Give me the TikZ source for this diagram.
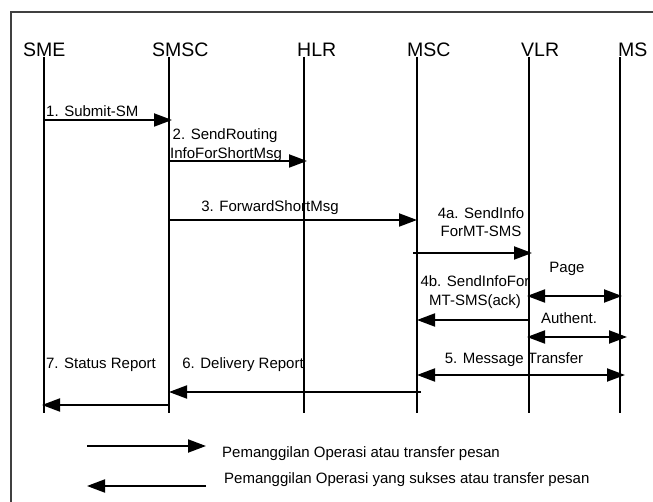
\documentclass[tikz,border=0pt]{standalone}
\usepackage{fontspec}
\setmainfont{Liberation Sans}
\usetikzlibrary{arrows.meta}

\newcommand{\headfont}{\fontsize{19.5}{21}\selectfont}
\newcommand{\msgfont}{\fontsize{15}{18.5}\selectfont}

\tikzset{
  head/.style={anchor=base west, inner sep=0pt, font=\headfont},
  lifeline/.style={line width=1.7pt},
  msg/.style={->, line width=2pt, shorten >=-3pt},
  duplex/.style={<->, line width=2pt, shorten >=-2pt, shorten <=-2pt},
  lbl/.style={inner sep=0pt, font=\msgfont, align=center}
}

\begin{document}
\begin{tikzpicture}[x=1pt,y=-1pt,>={Triangle[length=18pt,width=13pt]}]
        \useasboundingbox (0,0) rectangle (653,502);
        \draw[line width=1.5pt, black!75] (11,502) -- (11,12) -- (653,12);

        % lifelines
        \node (sme) [head] at (23,57) {SME};
        \node (smsc) [head] at (152,57) {SMSC};
        \node (hlr) [head] at (297,57) {HLR};
        \node (msc) [head] at (407,57) {MSC};
        \node (vlr) [head] at (521,57) {VLR};
        \node (ms) [head] at (618,57) {MS};
        \coordinate (smeT) at (44,57);
        \coordinate (smscT) at (169,57);
        \coordinate (hlrT) at (304,57);
        \coordinate (mscT) at (417,57);
        \coordinate (vlrT) at (529,57);
        \coordinate (msT) at (620,57);
        \foreach \l in {smeT,smscT,hlrT,mscT,vlrT,msT}
            \draw[lifeline] (\l) -- (\l |- 0,413);

        % messages
        \draw[msg] (smeT |- 0,120) -- (smscT |- 0,120);
        \node (m1) [lbl, anchor=base west] at (46,117) {1. Submit-SM};
        \draw[msg] (smscT |- 0,161) ++(1,0) -- (hlrT |- 0,161);
        \node (m2) [lbl, anchor=west, align=left] at (170,145) {\,2. SendRouting\\InfoForShortMsg};
        \draw[msg, shorten >=0pt] (smscT |- 0,220) ++(1,0) -- (mscT |- 0,220);
        \node (m3) [lbl] at (270,208) {3. ForwardShortMsg};
        \draw[msg] (mscT |- 0,253) ++(-4,0) -- (vlrT |- 0,253);
        \node (m4a) [lbl] at (481,222) {4a. SendInfo\\ForMT-SMS};
        \draw[duplex] (vlrT |- 0,296) -- (msT |- 0,296);
        \node (pg) [lbl] at (567,269) {Page};
        \draw[msg, shorten >=0pt] (vlrT |- 0,320) -- (mscT |- 0,320);
        \node (m4b) [lbl] at (475,292) {4b. SendInfoFor\\MT-SMS(ack)};
        \draw[duplex, shorten >=0pt] (vlrT |- 0,337) -- ++(98,0);
        \node (aut) [lbl] at (569,318) {Authent.};
        \draw[duplex, shorten >=0pt, shorten <=0pt] (mscT |- 0,375) -- ++(208,0);
        \node (m5) [lbl] at (514,360) {5. Message Transfer};
        \draw[msg, shorten >=0pt] (mscT |- 0,392) ++(4,0) -- (smscT |- 0,392);
        \node (m6) [lbl] at (243,365) {6. Delivery Report};
        \draw[msg, shorten >=0pt] (smscT |- 0,405) -- ++(-127,0);
        \node (m7) [lbl] at (101,365) {7. Status Report};

        % legend
        \coordinate (lg1a) at (87,446);
        \coordinate (lg1b) at (206,446);
        \coordinate (lg2a) at (206,486);
        \coordinate (lg2b) at (87,486);
        \draw[msg, shorten >=0pt] (lg1a) -- (lg1b);
        \draw[msg, shorten >=0pt] (lg2a) -- (lg2b);
        \node (lgt1) [lbl, anchor=west] at (222,454) {Pemanggilan Operasi atau transfer pesan};
        \node (lgt2) [lbl, anchor=west] at (224,480) {Pemanggilan Operasi yang sukses atau transfer pesan};
    \end{tikzpicture}
\end{document}
